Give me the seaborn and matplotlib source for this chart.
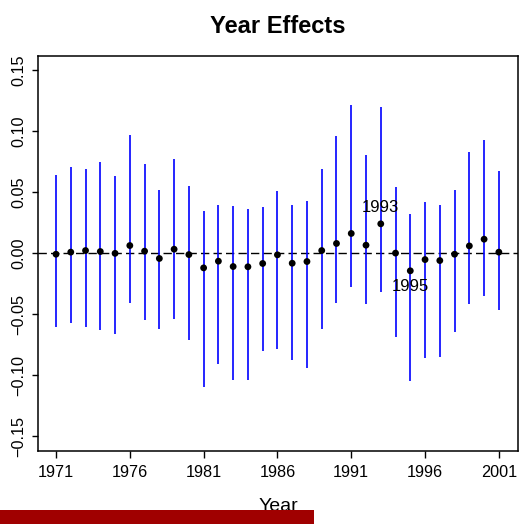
import numpy as np
import pandas as pd
import seaborn as sns
import matplotlib
matplotlib.use("Agg")
import matplotlib.pyplot as plt
from matplotlib.patches import Rectangle

# Year effect estimates with confidence bounds
years = list(range(1971, 2002))
estimate = [-0.0007, 0.0010, 0.0023, 0.0015, 0.0000, 0.0064, 0.0018, -0.0042,
            0.0034, -0.0010, -0.0119, -0.0064, -0.0108, -0.0110, -0.0083, -0.0012,
            -0.0081, -0.0067, 0.0023, 0.0081, 0.0163, 0.0067, 0.0242, 0.0002,
            -0.0143, -0.0051, -0.0059, -0.0007, 0.0061, 0.0116, 0.0010]
upper = [0.0641, 0.0707, 0.0693, 0.0747, 0.0635, 0.0966, 0.0734, 0.0518,
         0.0777, 0.0553, 0.0348, 0.0398, 0.0389, 0.0365, 0.0384, 0.0507,
         0.0398, 0.0428, 0.0693, 0.0963, 0.1215, 0.0805, 0.1201, 0.0545,
         0.0321, 0.0419, 0.0398, 0.0520, 0.0829, 0.0930, 0.0676]
lower = [-0.0602, -0.0567, -0.0605, -0.0627, -0.0663, -0.0411, -0.0545, -0.0619,
         -0.0534, -0.0712, -0.1092, -0.0903, -0.1042, -0.1034, -0.0802, -0.0784,
         -0.0876, -0.0941, -0.0622, -0.0411, -0.0275, -0.0414, -0.0313, -0.0682,
         -0.1045, -0.0854, -0.0846, -0.0641, -0.0417, -0.0346, -0.0461]
x_ticks = [1971, 1976, 1981, 1986, 1991, 1996, 2001]
y_ticks = [-0.15, -0.10, -0.05, 0.00, 0.05, 0.10, 0.15]
labelled_above = [1993]
labelled_below = [1995]

df = pd.DataFrame({"Year": years, "est": estimate, "lo": lower, "hi": upper})

sns.set_style("white")
plt.rcParams["font.family"] = ["Liberation Sans", "DejaVu Sans"]
plt.rcParams["text.color"] = "black"
plt.rcParams["axes.labelcolor"] = "black"
plt.rcParams["xtick.color"] = "black"
plt.rcParams["ytick.color"] = "black"

fig = plt.figure(figsize=(5.29, 5.24), dpi=100)
ax = fig.add_axes([0.0724, 0.1393, 0.9069, 0.7544])

ax.vlines(df["Year"], df["lo"], df["hi"], color="#0000FF", lw=1.2, zorder=2)
ax.axhline(0, color="black", lw=1.0, linestyle=(0, (6, 3)), zorder=1)
sns.scatterplot(data=df, x="Year", y="est", color="black", s=24,
                edgecolor="none", ax=ax, zorder=3)

for yr in labelled_above:
    v = df.loc[df["Year"] == yr, "est"].iloc[0]
    ax.annotate(str(yr), (yr, v), xytext=(0, 11.5), textcoords="offset points",
                ha="center", va="center", fontsize=12, color="black")
for yr in labelled_below:
    v = df.loc[df["Year"] == yr, "est"].iloc[0]
    ax.annotate(str(yr), (yr, v), xytext=(0, -11), textcoords="offset points",
                ha="center", va="center", fontsize=12, color="black")

ax.set_xlim(1969.8, 2002.3)
ax.set_ylim(-0.162, 0.162)
ax.set_xticks(x_ticks)
ax.set_xticklabels([str(t) for t in x_ticks], fontsize=11.7)
ax.set_yticks(y_ticks)
ax.set_yticklabels([f"{t:.2f}".replace("-", "\u2212") for t in y_ticks],
                   fontsize=11.7, rotation=90, va="center")
ax.tick_params(axis="x", direction="out", length=5, width=1.0,
               color="black", labelcolor="black", pad=5, bottom=True)
ax.tick_params(axis="y", direction="out", length=4.3, width=1.0,
               color="black", labelcolor="black", pad=4.3, left=True)
for s in ax.spines.values():
    s.set_color("black")
    s.set_linewidth(1.1)

ax.set_xlabel("Year", fontsize=14, labelpad=13, color="black")
ax.set_ylabel("")
ax.set_title("Year Effects", fontsize=17, fontweight="bold", pad=16, color="black")

# banner strip along the lower edge
fig.add_artist(Rectangle((0, 0), 314 / 529, 14 / 524, transform=fig.transFigure,
                         facecolor="#A00000", edgecolor="none", zorder=10))

fig.savefig("out.png", dpi=100)
